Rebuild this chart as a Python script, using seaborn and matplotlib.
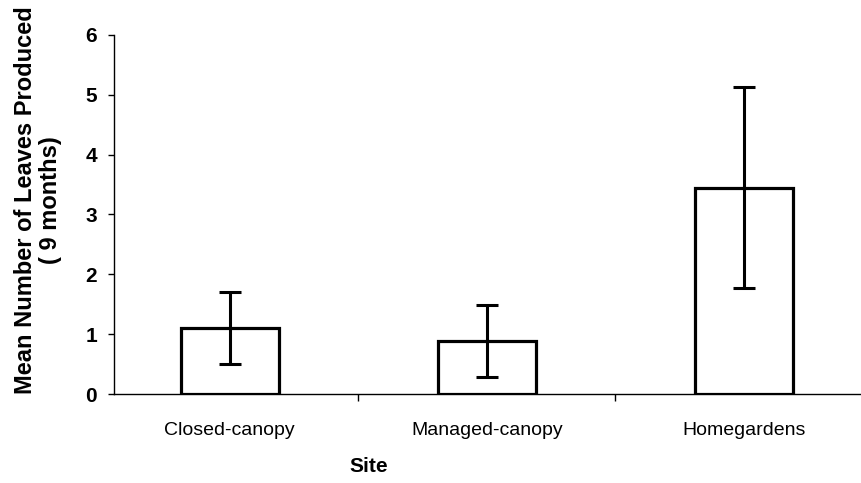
import matplotlib
matplotlib.use("Agg")
import matplotlib.pyplot as plt
import seaborn as sns
import pandas as pd

sites = ["Closed-canopy", "Managed-canopy", "Homegardens"]
mean_leaves = [1.10, 0.88, 3.45]
err_leaves = [0.60, 0.60, 1.68]
y_ticks = [0, 1, 2, 3, 4, 5, 6]

sns.set_theme(style="white")
plt.rcParams["font.family"] = ["Liberation Sans", "DejaVu Sans"]
plt.rcParams.update({"text.color": "black", "axes.labelcolor": "black",
                     "xtick.color": "black", "ytick.color": "black"})

df = pd.DataFrame({"Site": sites, "Leaves": mean_leaves})

fig = plt.figure(figsize=(8.62, 4.83), dpi=100)
ax = fig.add_axes([0.132, 0.184, 0.868, 0.744])

sns.barplot(data=df, x="Site", y="Leaves", ax=ax, color="white",
            edgecolor="black", linewidth=2.3, width=0.38, errorbar=None)
ax.errorbar(range(len(sites)), mean_leaves, yerr=err_leaves, fmt="none",
            ecolor="black", elinewidth=2.2, capsize=8, capthick=2.2)

ax.set_ylim(0, 6)
ax.set_xlim(-0.451, 2.46)
ax.set_yticks(y_ticks)
ax.set_yticklabels([str(t) for t in y_ticks], fontsize=15, fontweight="bold")
ax.tick_params(axis="y", direction="out", length=4, width=1, pad=8,
               left=True)

ax.set_xticks(range(len(sites)))
ax.set_xticklabels(sites, fontsize=14)
ax.tick_params(axis="x", which="major", length=0, pad=20)
ax.set_xticks([0.5, 1.5], minor=True)
ax.tick_params(axis="x", which="minor", direction="out", length=5, width=1,
               bottom=True)

for side in ["top", "right"]:
    ax.spines[side].set_visible(False)
for side in ["left", "bottom"]:
    ax.spines[side].set_color("black")
    ax.spines[side].set_linewidth(1.0)

ax.set_ylabel("Mean Number of Leaves Produced\n( 9 months)", fontsize=17,
              fontweight="bold", linespacing=1.1)
ax.yaxis.set_label_coords(-0.069, 0.54)
ax.set_xlabel("Site", fontsize=15, fontweight="bold")
ax.xaxis.set_label_coords(0.341, -0.175)

fig.savefig("out.png", dpi=100, facecolor="white")
